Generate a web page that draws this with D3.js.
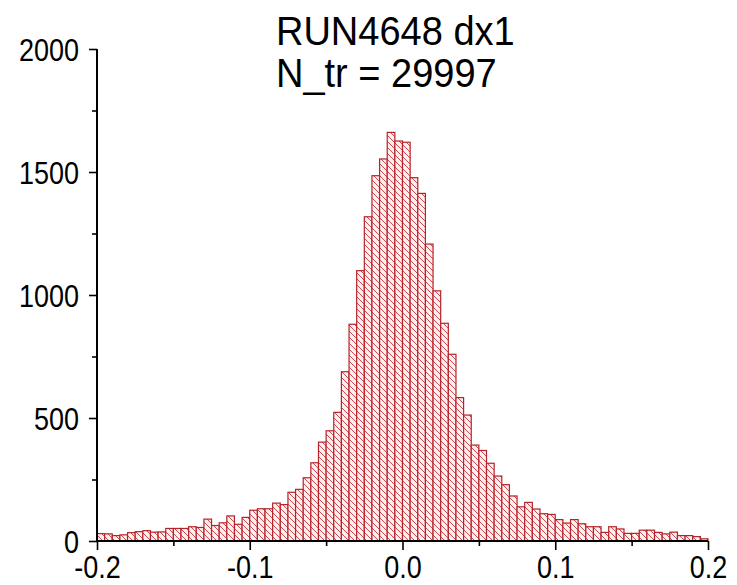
<!DOCTYPE html>
<html>
<head>
<meta charset="utf-8">
<script src="https://cdn.jsdelivr.net/npm/d3@7"></script>
<style>
  html, body { margin: 0; padding: 0; background: #fff; }
  svg { display: block; }
  text { font-family: "Liberation Sans", Arial, sans-serif; fill: #000; }
</style>
</head>
<body>
<svg id="chart" width="737" height="585"></svg>
<script>
// ---- data ----
const titleLines = ["RUN4648 dx1", "N_tr = 29997"];
const binStartValue = -0.2;
const binWidth = 0.005;
const counts = [
  30, 29, 22, 25, 34, 38, 42, 36, 37, 51,
  51, 51, 58, 55, 89, 63, 74, 102, 68, 96,
  125, 131, 131, 154, 148, 198, 210, 257, 318, 402,
  448, 523, 688, 881, 1099, 1318, 1485, 1553, 1661, 1626,
  1621, 1477, 1413, 1207, 1017, 885, 759, 583, 512, 390,
  368, 316, 264, 229, 183, 139, 157, 130, 111, 108,
  87, 73, 87, 70, 58, 58, 35, 58, 49, 31,
  31, 44, 44, 35, 29, 36, 22, 22, 18, 9
];
const xTickValues = [-0.2, -0.1, 0.0, 0.1, 0.2];
const xTickLabels = ["-0.2", "-0.1", "0.0", "0.1", "0.2"];
const xMinorTicks = [-0.15, -0.05, 0.05, 0.15];
const yTickValues = [0, 500, 1000, 1500, 2000];
const yTickLabels = ["0", "500", "1000", "1500", "2000"];
const yMinorTicks = [250, 750, 1250, 1750];

// ---- layout ----
const svg = d3.select("#chart");
const x = d3.scaleLinear().domain([-0.2, 0.2]).range([97, 708]);
const y = d3.scaleLinear().domain([0, 2000]).range([541, 49]);

const barStroke = "#b3242a";
const hatchColor = "#c8383e";
const stretch = 1.18;
const titleStretch = 1.05;

const defs = svg.append("defs");
const pat = defs.append("pattern")
  .attr("id", "hatch")
  .attr("patternUnits", "userSpaceOnUse")
  .attr("width", 6).attr("height", 6);
pat.append("rect").attr("width", 6).attr("height", 6).attr("fill", "#fcefef");
pat.append("path")
  .attr("d", "M-1,-1 L7,7 M-1,5 L1,7 M5,-1 L7,1")
  .attr("stroke", hatchColor).attr("stroke-width", 0.9).attr("fill", "none");

const bins = counts.map((c, i) => ({
  x0: binStartValue + i * binWidth,
  x1: binStartValue + (i + 1) * binWidth,
  c
}));

svg.append("g").selectAll("rect").data(bins).join("rect")
  .attr("x", d => x(d.x0))
  .attr("y", d => y(d.c))
  .attr("width", d => x(d.x1) - x(d.x0))
  .attr("height", d => y(0) - y(d.c))
  .attr("fill", "url(#hatch)")
  .attr("stroke", barStroke)
  .attr("stroke-width", 1.2);

// ---- axes ----
const xAxis = d3.axisBottom(x).tickValues(xTickValues)
  .tickFormat((d, i) => xTickLabels[i]).tickSize(9);
const xMinor = d3.axisBottom(x).tickValues(xMinorTicks).tickFormat("").tickSize(5);
const yAxis = d3.axisLeft(y).tickValues(yTickValues)
  .tickFormat((d, i) => yTickLabels[i]).tickSize(8);
const yMinor = d3.axisLeft(y).tickValues(yMinorTicks).tickFormat("").tickSize(5);

function styleAxis(g) {
  g.select(".domain").attr("stroke", "#000").attr("stroke-width", 2);
  g.selectAll(".tick line").attr("stroke", "#000").attr("stroke-width", 1.6);
  g.selectAll(".tick text")
    .attr("font-family", "Liberation Sans, Arial, sans-serif")
    .attr("font-size", 27).attr("fill", "#000");
}

svg.append("g").attr("transform", `translate(0,${y(0)})`).call(xMinor).call(styleAxis)
  .select(".domain").remove();
svg.append("g").attr("transform", `translate(${x(-0.2)},0)`).call(yMinor).call(styleAxis)
  .select(".domain").remove();

const gx = svg.append("g").attr("transform", `translate(0,${y(0)})`).call(xAxis).call(styleAxis);
gx.select(".domain").attr("d", `M${x(-0.2)},0H${x(0.2)}`);
gx.selectAll(".tick text")
  .attr("x", 0).attr("y", 0).attr("dy", null)
  .attr("transform", `translate(0,37) scale(1,${stretch})`);

const gy = svg.append("g").attr("transform", `translate(${x(-0.2)},0)`).call(yAxis).call(styleAxis);
gy.select(".domain").attr("d", `M0,${y(2000)}V${y(0)}`);
gy.selectAll(".tick text")
  .attr("x", 0).attr("y", 0).attr("dy", "0.36em")
  .attr("transform", `translate(-18,0) scale(1,${stretch})`);

// ---- title ----
svg.append("g").selectAll("text").data(titleLines).join("text")
  .attr("x", 0).attr("y", 0)
  .attr("transform", (d, i) => `translate(276,${45 + i * 42}) scale(1,${titleStretch})`)
  .attr("font-size", 38)
  .text(d => d);
</script>
</body>
</html>
